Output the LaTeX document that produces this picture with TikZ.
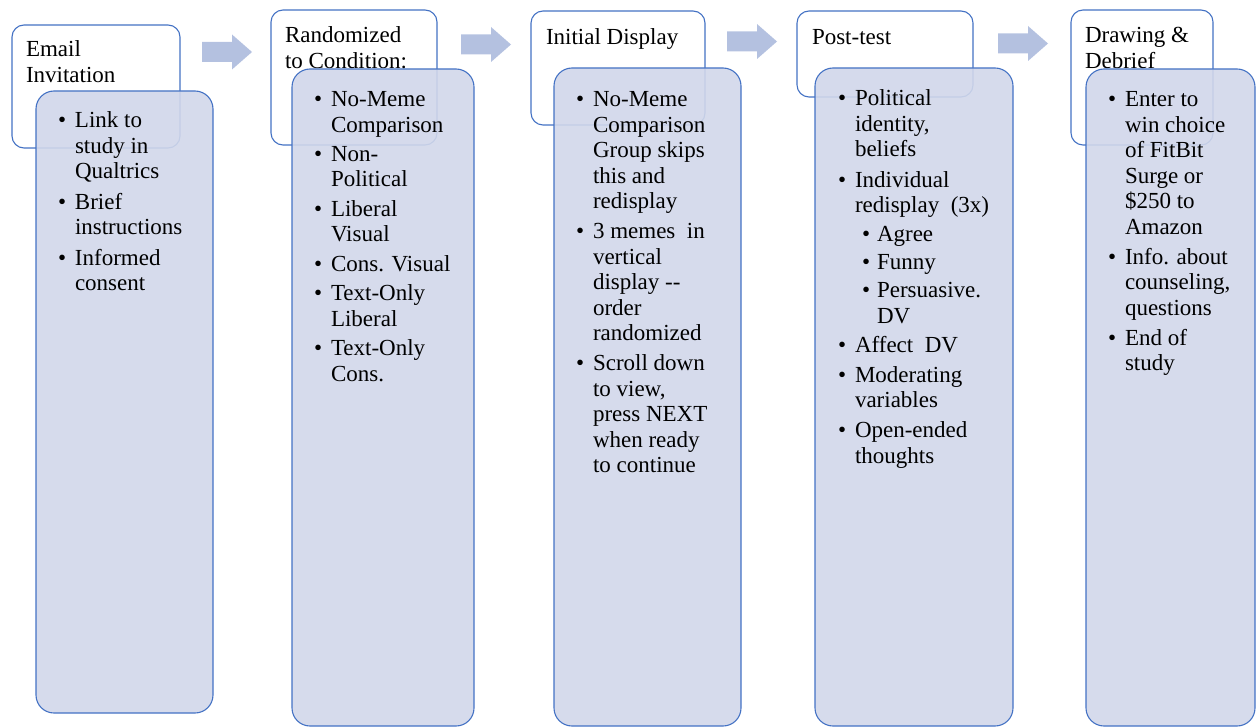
\documentclass[tikz,border=0pt]{standalone}
\usepackage{fontspec}
\setmainfont{Liberation Serif}
\definecolor{edgeblue}{RGB}{68,114,196}
\definecolor{panelfill}{RGB}{209,215,234}
\definecolor{arrowfill}{RGB}{180,193,224}
\newcommand\bu{\makebox[17pt][l]{\textbullet}}
\newcommand\ind{\hspace*{17pt}}
\newcommand\subbu{\hspace*{24pt}\makebox[15pt][l]{\textbullet}}
\newcommand\subind{\hspace*{39pt}}
\newcommand\blkarrow[3]{%
  \fill[blockarrow] (#2,#3-10) -- (#2+30,#3-10) -- (#2+30,#3-17.5) -- (#2+50,#3)
    -- (#2+30,#3+17.5) -- (#2+30,#3+10) -- (#2,#3+10) -- cycle;
  \coordinate (#1) at (#2+25,#3);}
\tikzset{
  hdrbox/.style={draw=edgeblue, line width=1.1pt, fill=white, rounded corners=12pt,
    inner sep=0pt, outer sep=0pt, anchor=north west},
  panelbox/.style={draw=edgeblue, line width=1.1pt, fill=panelfill, fill opacity=0.9,
    rounded corners=18pt, inner sep=0pt, outer sep=0pt, anchor=north west},
  txt/.style={anchor=base west, inner sep=0pt, outer sep=0pt,
    font=\fontsize{23}{25.5}\selectfont},
  hdrtxt/.style={anchor=base west, inner sep=0pt, outer sep=0pt,
    font=\fontsize{23}{26}\selectfont},
  blockarrow/.style={fill=arrowfill, draw=none}
}
\begin{document}
\begin{tikzpicture}[x=1pt,y=-1pt]
\useasboundingbox (0,0) rectangle (1257,727);

% header boxes
\node[hdrbox, minimum width=168pt, minimum height=123pt] (h1) at (12,25) {};
\node[hdrbox, minimum width=166pt, minimum height=135pt] (h2) at (271,10) {};
\node[hdrbox, minimum width=174pt, minimum height=114pt] (h3) at (531,11) {};
\node[hdrbox, minimum width=176pt, minimum height=86pt] (h4) at (797,11) {};
\node[hdrbox, minimum width=142pt, minimum height=135pt] (h5) at (1071,10) {};

% header texts
\node[hdrtxt] (t1) at (26,57) {\begin{tabular}[t]{@{}l@{}}Email\\Invitation\end{tabular}};
\node[hdrtxt] (t2) at (285,43) {\begin{tabular}[t]{@{}l@{}}Randomized\\to Condition:\end{tabular}};
\node[hdrtxt] (t3) at (546,45) {Initial Display};
\node[hdrtxt] (t4) at (812,45) {Post-test};
\node[hdrtxt] (t5) at (1085,43) {\begin{tabular}[t]{@{}l@{}}Drawing \&\\Debrief\end{tabular}};

% panels
\node[panelbox, minimum width=177pt, minimum height=622pt] (p1) at (36,91) {};
\node[panelbox, minimum width=182pt, minimum height=657pt] (p2) at (292,69) {};
\node[panelbox, minimum width=187pt, minimum height=658pt] (p3) at (554,68) {};
\node[panelbox, minimum width=198pt, minimum height=658pt] (p4) at (815,68) {};
\node[panelbox, minimum width=169pt, minimum height=657pt] (p5) at (1086,69) {};

% panel texts
\node[txt] (b1) at (58,128) {\begin{tabular}[t]{@{}l@{}}
\bu Link to\\ \ind study in\\ \ind Qualtrics\\[5pt]
\bu Brief\\ \ind instructions\\[5pt]
\bu Informed\\ \ind consent
\end{tabular}};
\node[txt] (b2) at (314,107) {\begin{tabular}[t]{@{}l@{}}
\bu No-Meme\\ \ind Comparison\\[3.5pt]
\bu Non-\\ \ind Political\\[4pt]
\bu Liberal\\ \ind Visual\\[4pt]
\bu Cons. Visual\\[4pt]
\bu Text-Only\\ \ind Liberal\\[4pt]
\bu Text-Only\\ \ind Cons.
\end{tabular}};
\node[txt] (b3) at (576,107) {\begin{tabular}[t]{@{}l@{}}
\bu No-Meme\\ \ind Comparison\\ \ind Group skips\\ \ind this and\\ \ind redisplay\\[4.5pt]
\bu 3 memes\ \ in\\ \ind vertical\\ \ind display -{}-\\ \ind order\\ \ind randomized\\[4.5pt]
\bu Scroll down\\ \ind to view,\\ \ind press NEXT\\ \ind when ready\\ \ind to continue
\end{tabular}};
\node[txt] (b4) at (838,106) {\begin{tabular}[t]{@{}l@{}}
\bu Political\\ \ind identity,\\ \ind beliefs\\[5pt]
\bu Individual\\ \ind redisplay\ \ (3x)\\[3pt]
\subbu Agree\\[3pt]
\subbu Funny\\[2.5pt]
\subbu Persuasive.\\ \subind DV\\[4pt]
\bu Affect\ \ DV\\[4pt]
\bu Moderating\\ \ind variables\\[4.5pt]
\bu Open-ended\\ \ind thoughts
\end{tabular}};
\node[txt] (b5) at (1108,107) {\begin{tabular}[t]{@{}l@{}}
\bu Enter to\\ \ind win choice\\ \ind of FitBit\\ \ind Surge or\\ \ind \$250 to\\ \ind Amazon\\[4.5pt]
\bu Info. about\\ \ind counseling,\\ \ind questions\\[4.5pt]
\bu End of\\ \ind study
\end{tabular}};

% block arrows
\blkarrow{a1}{202}{52}
\blkarrow{a2}{461}{44.5}
\blkarrow{a3}{727}{41.5}
\blkarrow{a4}{998}{43.5}
\end{tikzpicture}
\end{document}
